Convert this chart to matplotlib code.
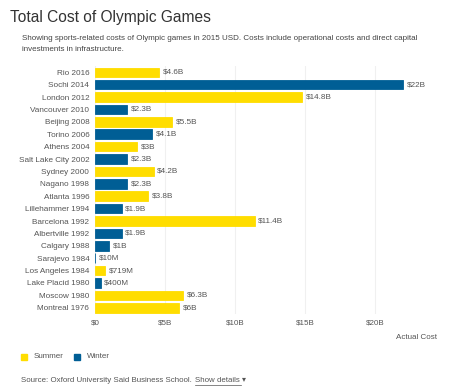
import matplotlib
matplotlib.use("Agg")
import matplotlib.pyplot as plt
from matplotlib.patches import Rectangle

plt.rcParams['font.family'] = ['Liberation Sans', 'DejaVu Sans']

games = ["Rio 2016", "Sochi 2014", "London 2012", "Vancouver 2010", "Beijing 2008",
         "Torino 2006", "Athens 2004", "Salt Lake City 2002", "Sydney 2000",
         "Nagano 1998", "Atlanta 1996", "Lillehammer 1994", "Barcelona 1992",
         "Albertville 1992", "Calgary 1988", "Sarajevo 1984", "Los Angeles 1984",
         "Lake Placid 1980", "Moscow 1980", "Montreal 1976"]
season = ["S", "W", "S", "W", "S", "W", "S", "W", "S", "W", "S", "W", "S",
          "W", "W", "W", "S", "W", "S", "S"]
cost = [4.6, 22, 14.8, 2.3, 5.5, 4.1, 3, 2.3, 4.2, 2.3, 3.8, 1.9, 11.4,
        1.9, 1, 0.01, 0.719, 0.4, 6.3, 6]
cost_labels = ["$4.6B", "$22B", "$14.8B", "$2.3B", "$5.5B", "$4.1B", "$3B", "$2.3B",
               "$4.2B", "$2.3B", "$3.8B", "$1.9B", "$11.4B", "$1.9B", "$1B", "$10M",
               "$719M", "$400M", "$6.3B", "$6B"]
xticks = [0, 5, 10, 15, 20]
xtick_labels = ["$0", "$5B", "$10B", "$15B", "$20B"]

YELLOW = "#FFDD00"
BLUE = "#005E95"
GRAY = "#555555"

fig = plt.figure(figsize=(4.77, 3.91), dpi=100)
ax = fig.add_axes([0.199, 0.197, 0.72, 0.634])

y = list(range(len(games)))
colors = [YELLOW if s == "S" else BLUE for s in season]
ax.barh(y, cost, height=0.77, color=colors, edgecolor=colors, linewidth=0.6, zorder=2)
for yi, c, lab in zip(y, cost, cost_labels):
    ax.text(c + 0.25, yi, lab, va="center", ha="left", fontsize=5.9, color=GRAY)

ax.set_xlim(0, 24.5)
ax.set_ylim(len(games) - 0.5, -0.5)
ax.set_yticks(y)
ax.set_yticklabels(games, fontsize=5.9, color=GRAY)
ax.set_xticks(xticks)
ax.set_xticklabels(xtick_labels, fontsize=5.8, color=GRAY)
ax.tick_params(length=0, pad=4)
ax.tick_params(axis="x", pad=4)
ax.grid(axis="x", color="#f0f0f0", linewidth=0.8, zorder=0)
for s in ax.spines.values():
    s.set_visible(False)

fig.text(0.916, 0.138, "Actual Cost", ha="right", va="center", fontsize=5.8, color=GRAY)

fig.text(0.021, 0.955, "Total Cost of Olympic Games", fontsize=11.2, color="#333333",
         va="center")
fig.text(0.046, 0.902, "Showing sports-related costs of Olympic games in 2015 USD. "
         "Costs include operational costs and direct capital", fontsize=5.8,
         color="#444444", va="center")
fig.text(0.046, 0.874, "investments in infrastructure.", fontsize=5.8,
         color="#444444", va="center")

# legend
for x0, col, name in [(0.044, YELLOW, "Summer"), (0.155, BLUE, "Winter")]:
    fig.patches.append(Rectangle((x0, 0.079), 0.0125, 0.016, transform=fig.transFigure,
                                 color=col))
    fig.text(x0 + 0.027, 0.087, name, fontsize=5.8, color=GRAY, va="center")

fig.text(0.044, 0.028, "Source: Oxford University Said Business School.", fontsize=5.7,
         color=GRAY, va="center")
fig.text(0.409, 0.028, "Show details \u25BE", fontsize=5.7, color=GRAY, va="center")
fig.lines.append(plt.Line2D([0.409, 0.505], [0.016, 0.016], transform=fig.transFigure,
                            color=GRAY, linewidth=0.5))

fig.savefig("out.png", dpi=100)
